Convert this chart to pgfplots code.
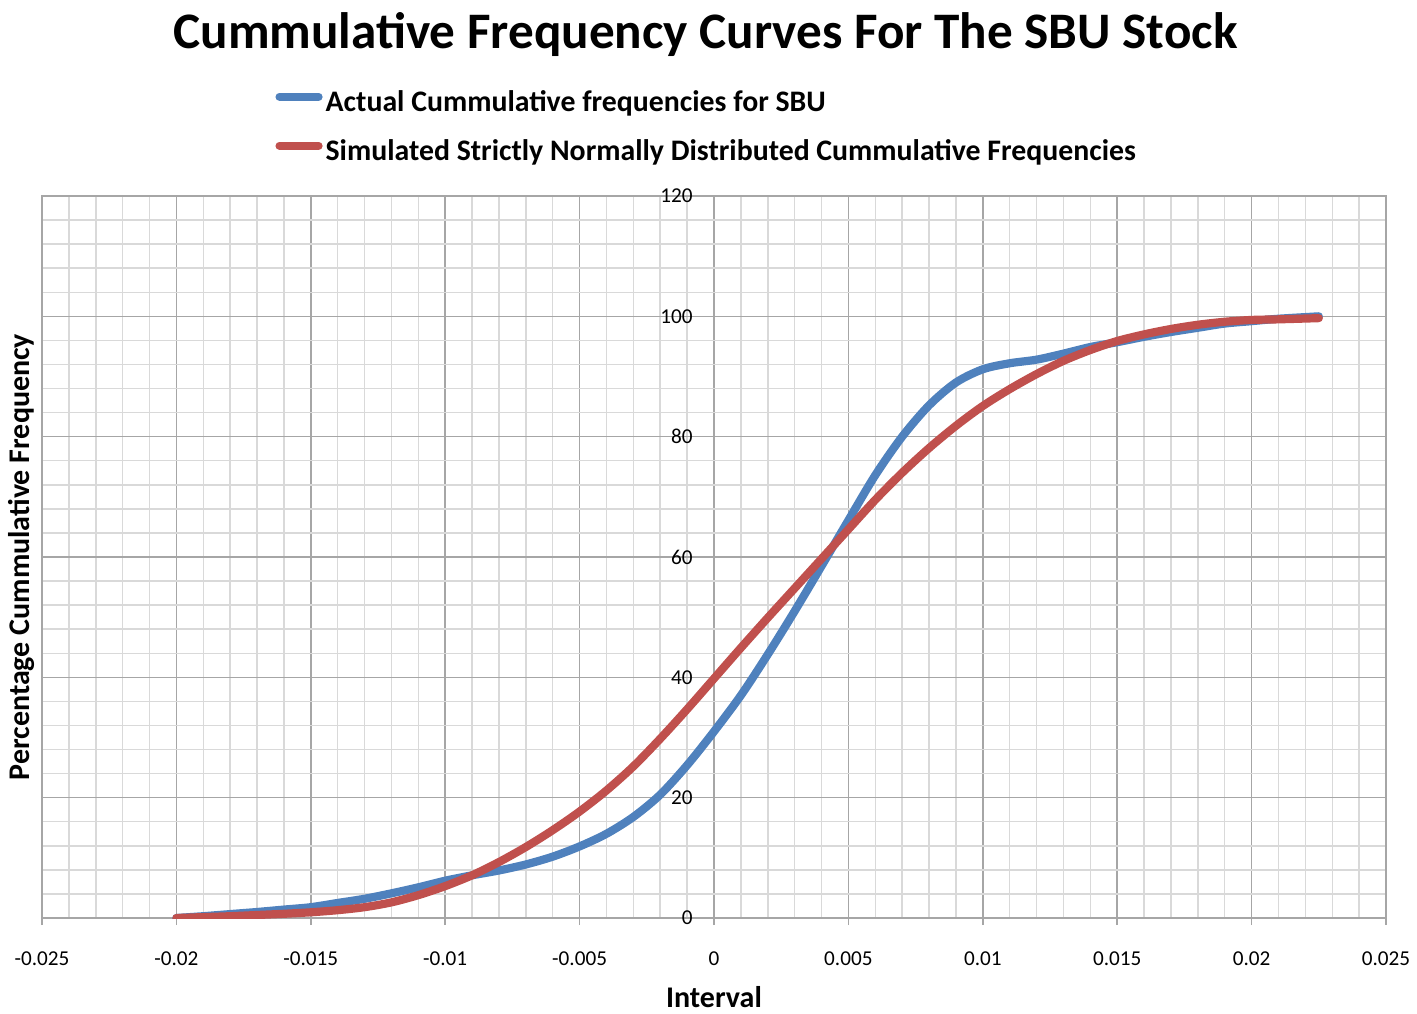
\documentclass[border=0pt]{standalone}
\usepackage{fontspec}
\setmainfont{Carlito}
\usepackage{pgfplots}
\pgfplotsset{compat=1.18}
\definecolor{exblue}{HTML}{4F81BD}
\definecolor{exred}{HTML}{C0504D}
\definecolor{majgrid}{HTML}{A6A6A6}
\definecolor{mingrid}{HTML}{D9D9D9}
\begin{document}
\begin{tikzpicture}
\useasboundingbox (-21pt,-47.5pt) rectangle (687.5pt,459pt);
\begin{axis}[
  scale only axis, width=672pt, height=361pt,
  at={(0pt,0pt)}, anchor=south west,
  xmin=-0.025, xmax=0.025, ymin=0, ymax=120,
  scaled x ticks=false, scaled y ticks=false,
  xtick={-0.025,-0.02,-0.015,-0.01,-0.005,0,0.005,0.01,0.015,0.02,0.025},
  xticklabels={-0.025,-0.02,-0.015,-0.01,-0.005,0,0.005,0.01,0.015,0.02,0.025},
  ytick={0,20,40,60,80,100,120},
  yticklabels={0,20,40,60,80,100,120},
  minor x tick num=4, minor y tick num=4,
  grid=both,
  major grid style={draw=majgrid, line width=0.75pt},
  minor grid style={draw=mingrid, line width=0.75pt},
  axis line style={draw=majgrid, line width=0.75pt},
  xtick pos=bottom, xtick align=outside,
  major tick length=3.5pt,
  xtick style={draw=majgrid, line width=0.75pt},
  ytick style={draw=none},
  minor tick length=0pt,
  tick label style={font=\fontsize{10.6}{12}\selectfont},
  xticklabel style={anchor=center, yshift=-17pt},
  yticklabel style={anchor=east, inner sep=0pt, xshift=325.5pt},
  xlabel={Interval},
  ylabel={Percentage Cummulative Frequency},
  label style={font=\fontsize{15}{17}\selectfont\bfseries},
  xlabel style={at={(axis description cs:0.5,-0.1097)}, anchor=center, inner sep=0pt},
  ylabel style={at={(axis description cs:-0.0149,0.5)}, anchor=center, rotate=0, inner sep=0pt},
  legend cell align=left,
  legend style={at={(axis description cs:0.1734,1.1482)}, anchor=north west,
    draw=none, fill=none, inner sep=0pt, row sep=9.8pt, column sep=1.5pt,
    font=\fontsize{14.9}{17}\selectfont\bfseries,
    nodes={inner sep=0pt, text height=10.9pt, text depth=3.8pt}},
  legend image code/.code={\draw[#1, line width=4.1pt, line cap=round] (2pt,3.7pt) -- (21.5pt,3.7pt);},
]
\addplot[exblue, line width=4.1pt, smooth, line cap=round] coordinates {
(-0.020,0) (-0.019,0.3) (-0.018,0.65) (-0.017,1.0) (-0.016,1.4) (-0.015,1.8)
(-0.014,2.5) (-0.013,3.2) (-0.012,4.1) (-0.011,5.1) (-0.010,6.2) (-0.009,7.1)
(-0.008,7.9) (-0.007,8.9) (-0.006,10.2) (-0.005,11.9) (-0.004,14.0) (-0.003,16.8)
(-0.002,20.5) (-0.001,25.4) (0,31.0) (0.001,37.0) (0.002,43.8) (0.003,51.0)
(0.004,58.5) (0.005,66.1) (0.006,73.6) (0.007,80.0) (0.008,85.2) (0.009,89.0)
(0.010,91.2) (0.011,92.2) (0.012,92.8) (0.013,93.8) (0.014,94.9) (0.015,95.7)
(0.016,96.6) (0.017,97.4) (0.018,98.1) (0.019,98.8) (0.020,99.2) (0.021,99.6)
(0.0225,100)
};
\addlegendentry{Actual Cummulative frequencies for SBU}
\addplot[exred, line width=4.1pt, smooth, line cap=round] coordinates {
(-0.020,0) (-0.019,0.15) (-0.018,0.3) (-0.017,0.5) (-0.016,0.7) (-0.015,0.95)
(-0.014,1.3) (-0.013,1.8) (-0.012,2.6) (-0.011,3.8) (-0.010,5.3) (-0.009,7.1)
(-0.008,9.3) (-0.007,11.8) (-0.006,14.6) (-0.005,17.7) (-0.004,21.2) (-0.003,25.2)
(-0.002,29.8) (-0.001,34.7) (0,39.8) (0.001,44.9) (0.002,49.9) (0.003,54.8)
(0.004,59.7) (0.005,64.6) (0.006,69.5) (0.007,74.0) (0.008,78.1) (0.009,81.8)
(0.010,85.1) (0.011,87.9) (0.012,90.4) (0.013,92.6) (0.014,94.4) (0.015,95.9)
(0.016,97.0) (0.017,97.9) (0.018,98.6) (0.019,99.1) (0.020,99.4) (0.021,99.5)
(0.0225,99.7)
};
\addlegendentry{Simulated Strictly Normally Distributed Cummulative Frequencies}
\end{axis}
\node[anchor=base, font=\fontsize{25.6}{30}\selectfont\bfseries, inner sep=0pt] at (331.75pt,434.5pt) {Cummulative Frequency Curves For The SBU Stock};
\end{tikzpicture}
\end{document}
